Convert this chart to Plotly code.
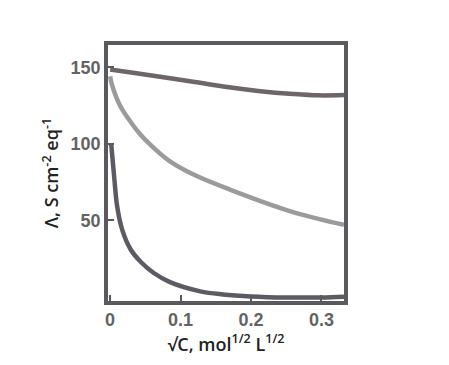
import plotly.graph_objects as go

# Data
x_top = [0.0, 0.03, 0.071, 0.12, 0.166, 0.21, 0.26, 0.295, 0.332]
y_top = [148.5, 146.5, 143.7, 140.3, 137.0, 134.5, 132.5, 131.6, 131.8]

x_mid = [0.0, 0.003, 0.014, 0.028, 0.043, 0.065, 0.085, 0.12, 0.17, 0.255, 0.332]
y_mid = [144, 138, 125, 115, 106, 96, 88.5, 79.5, 70, 56, 47]

x_low = [0.0015, 0.006, 0.010, 0.017, 0.029, 0.044, 0.062, 0.085, 0.128, 0.16, 0.2, 0.25, 0.3, 0.332]
y_low = [100, 77, 59, 44, 31, 22.5, 15.5, 9.5, 3.5, 1.5, 0.2, -0.5, -0.5, 0]

x_ticks = [0, 0.1, 0.2, 0.3]
x_tick_labels = ["0", "0.1", "0.2", "0.3"]
y_ticks = [50, 100, 150]
y_tick_labels = ["50", "100", "150"]

fig = go.Figure()
fig.add_trace(go.Scatter(x=x_low, y=y_low, mode="lines",
                         line=dict(color="#5b5c63", width=4.5, shape="spline", smoothing=1.0)))
fig.add_trace(go.Scatter(x=x_mid, y=y_mid, mode="lines",
                         line=dict(color="#9b9b9b", width=4.5, shape="spline", smoothing=1.0)))
fig.add_trace(go.Scatter(x=x_top, y=y_top, mode="lines",
                         line=dict(color="#6e6569", width=4.5, shape="spline", smoothing=1.0)))

axis_common = dict(showline=True, linecolor="#5a5a5e", linewidth=3.5, mirror=True,
                   ticks="inside", ticklen=6, tickwidth=2, tickcolor="#5a5a5e",
                   showgrid=False, zeroline=False,
                   tickfont=dict(family="Arial", size=18, color="#636363", weight="bold"))

# page body adds an 8px offset, so the figure is sized/margined to compensate
fig.update_layout(
    width=441, height=357,
    margin=dict(l=100, r=105, t=37, b=64),
    paper_bgcolor="white", plot_bgcolor="white",
    showlegend=False,
    xaxis=dict(range=[-0.003, 0.332], tickvals=x_ticks, ticktext=x_tick_labels,
               title=dict(text="√C, mol<sup>1/2</sup> L<sup>1/2</sup>", standoff=5,
                          font=dict(family="Open Sans", size=18, color="#222222", weight=600)),
               **axis_common),
    yaxis=dict(range=[-2.8, 164.5], tickvals=y_ticks, ticktext=y_tick_labels,
               title=dict(text="Λ, S cm<sup>-2</sup> eq<sup>-1</sup>", standoff=8,
                          font=dict(family="Open Sans", size=18, color="#222222", weight=600)),
               **axis_common),
)

fig.write_html("out.html")
